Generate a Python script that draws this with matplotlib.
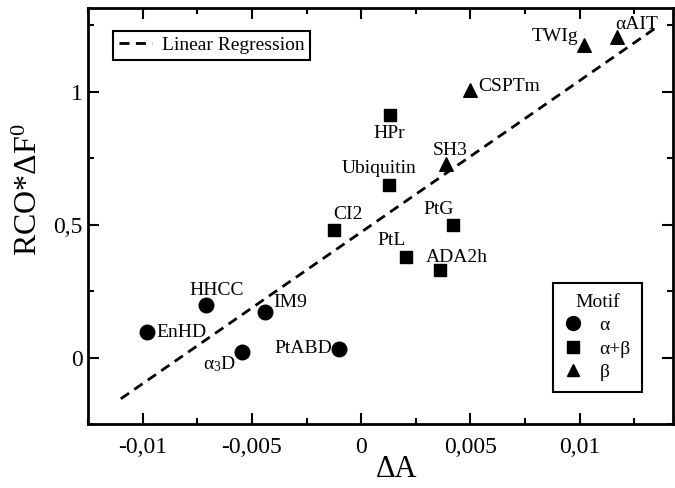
import numpy as np
import matplotlib
matplotlib.use('Agg')
import matplotlib.pyplot as plt
from matplotlib.lines import Line2D

plt.rcParams['font.family'] = ['Liberation Serif', 'DejaVu Serif']
plt.rcParams['mathtext.fontset'] = 'custom'
plt.rcParams['mathtext.rm'] = 'Liberation Serif'
plt.rcParams['mathtext.it'] = 'Liberation Serif:italic'

# proteins grouped by motif
alpha_names = ['EnHD', 'HHCC', 'IM9', r'α$_3$D', 'PtABD']
alpha_dA = [-0.00982, -0.00712, -0.00441, -0.00545, -0.00100]
alpha_y = [0.096, 0.196, 0.170, 0.022, 0.033]

ab_names = ['CI2', 'Ubiquitin', 'HPr', 'PtG', 'PtL', 'ADA2h']
ab_dA = [-0.00126, 0.00126, 0.00130, 0.00420, 0.00207, 0.00360]
ab_y = [0.481, 0.648, 0.911, 0.500, 0.378, 0.330]

beta_names = ['SH3', 'CSPTm', 'TWIg', 'αAIT']
beta_dA = [0.00390, 0.00500, 0.01018, 0.01170]
beta_y = [0.727, 1.007, 1.174, 1.207]

xticks = [-0.01, -0.005, 0, 0.005, 0.01]
xticklabels = ['-0,01', '-0,005', '0', '0,005', '0,01']
yticks = [0, 0.5, 1]
yticklabels = ['0', '0,5', '1']

# label offsets in points (dx, dy, ha)
offsets = {
    'EnHD': (7, 0, 'left'), 'HHCC': (8, 11, 'center'), 'IM9': (6, 7, 'left'),
    r'α$_3$D': (-4, -9, 'right'), 'PtABD': (-5, 0, 'right'),
    'CI2': (10, 11, 'center'), 'Ubiquitin': (-7, 12, 'center'), 'HPr': (0, -13, 'center'),
    'PtG': (-10, 11, 'center'), 'PtL': (-11, 12, 'center'), 'ADA2h': (12, 9, 'center'),
    'SH3': (3, 10, 'center'), 'CSPTm': (6, 2, 'left'), 'TWIg': (-4, 6, 'right'),
    'αAIT': (14, 9, 'center'),
}

fig = plt.figure(figsize=(6.75, 4.88), dpi=100)
ax = fig.add_axes([0.1304, 0.131, 0.8666, 0.853])

all_x = np.array(alpha_dA + ab_dA + beta_dA)
all_y = np.array(alpha_y + ab_y + beta_y)
slope, icpt = np.polyfit(all_x, all_y, 1)
xl = np.array([-0.011, 0.0135])
reg, = ax.plot(xl, slope * xl + icpt, color='black', lw=2, ls=(0, (3.6, 2.3)),
               label='Linear Regression')

ax.scatter(alpha_dA, alpha_y, marker='o', s=110, color='black', zorder=3)
ax.scatter(ab_dA, ab_y, marker='s', s=75, color='black', zorder=3)
ax.scatter(beta_dA, beta_y, marker='^', s=95, color='black', zorder=3)

for names, xs, ys in [(alpha_names, alpha_dA, alpha_y), (ab_names, ab_dA, ab_y),
                      (beta_names, beta_dA, beta_y)]:
    for n, x, y in zip(names, xs, ys):
        dx, dy, ha = offsets[n]
        ax.annotate(n, (x, y), xytext=(dx, dy), textcoords='offset points',
                    ha=ha, va='center', fontsize=14)

ax.set_xlim(-0.01207, 0.01427)
ax.set_ylim(-0.226, 1.315)
ax.set_xticks(xticks)
ax.set_xticklabels(xticklabels)
ax.set_yticks(yticks)
ax.set_yticklabels(yticklabels)
ax.set_xticks(np.arange(-0.0125, 0.0145, 0.0025), minor=True)
ax.set_yticks(np.arange(-0.25, 1.3, 0.25), minor=True)
ax.tick_params(which='both', direction='in', top=True, right=True, width=1.5,
               labelsize=17)
ax.tick_params(which='major', length=8)
ax.tick_params(which='minor', length=4)
ax.tick_params(axis='x', pad=9)
ax.tick_params(axis='y', pad=4)
for s in ax.spines.values():
    s.set_linewidth(2)

ax.set_xlabel('ΔA', fontsize=22)
ax.set_ylabel(r'RCO*ΔF$^0$', fontsize=23)
ax.xaxis.set_label_coords(0.528, -0.075)
ax.yaxis.set_label_coords(-0.076, 0.5625)

leg1 = ax.legend(handles=[reg], loc='upper left', bbox_to_anchor=(0.043, 0.945),
                 borderaxespad=0, fontsize=14, fancybox=False, framealpha=1,
                 edgecolor='black', handlelength=1.7, handletextpad=0.5,
                 borderpad=0.3)
leg1.get_frame().set_linewidth(1.5)
ax.add_artist(leg1)

handles = [Line2D([], [], marker='o', color='black', ls='none', markersize=10),
           Line2D([], [], marker='s', color='black', ls='none', markersize=8),
           Line2D([], [], marker='^', color='black', ls='none', markersize=9)]
leg2 = ax.legend(handles=handles, labels=['α', 'α+β', 'β'], title='Motif',
                 loc='upper left', bbox_to_anchor=(0.795, 0.339), borderaxespad=0,
                 fontsize=14, title_fontsize=14, fancybox=False, framealpha=1,
                 edgecolor='black', handlelength=1.0, handletextpad=0.85,
                 labelspacing=0.3, borderpad=0.55)
leg2.get_frame().set_linewidth(1.5)

fig.savefig('out.png', dpi=100)
